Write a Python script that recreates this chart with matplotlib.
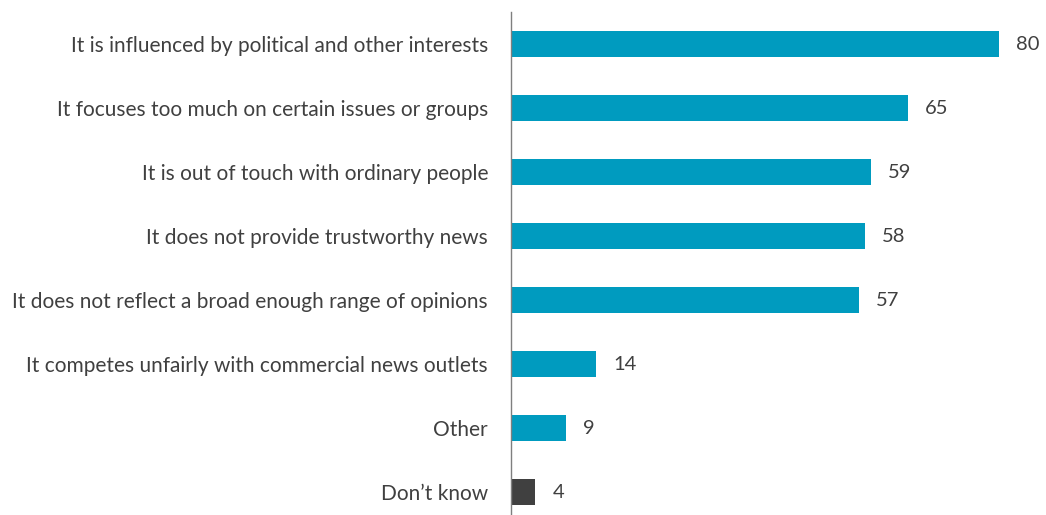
import matplotlib
matplotlib.use("Agg")
import matplotlib.pyplot as plt

categories = [
    "It is influenced by political and other interests",
    "It focuses too much on certain issues or groups",
    "It is out of touch with ordinary people",
    "It does not provide trustworthy news",
    "It does not reflect a broad enough range of opinions",
    "It competes unfairly with commercial news outlets",
    "Other",
    "Don\u2019t know",
]
values = [80, 65, 59, 58, 57, 14, 9, 4]
colors = ["#009bbf"] * 7 + ["#404040"]

plt.rcParams["font.family"] = ["Lato", "DejaVu Sans"]
text_color = "#404040"

fig = plt.figure(figsize=(10.46, 5.15), dpi=100)
ax = fig.add_axes([511 / 1046, 0.0, 1 - 511 / 1046, (515 - 12) / 515])

pos = list(range(len(categories)))
ax.barh(pos, values, height=0.4, color=colors)

for p, v in zip(pos, values):
    ax.annotate(str(v), xy=(v, p), xytext=(17, 0), textcoords="offset pixels",
                va="center", ha="left", fontsize=14.5, color=text_color)

ax.set_xlim(0, 535 / 6.1)
ax.set_ylim((515 - 44) / 64, -0.5)
ax.set_yticks(pos)
ax.set_yticklabels(categories, fontsize=15, color=text_color)
ax.tick_params(axis="y", length=0, pad=16.5)
ax.set_xticks([])
for side in ["top", "right", "bottom"]:
    ax.spines[side].set_visible(False)
ax.spines["left"].set_color("#7f7f7f")
ax.spines["left"].set_linewidth(1.0)

fig.savefig("out.png", dpi=100)
